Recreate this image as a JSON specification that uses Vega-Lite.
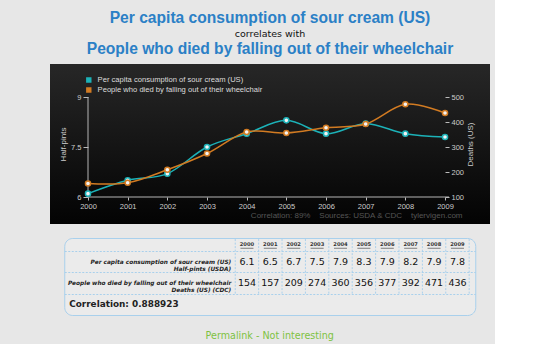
{
  "$schema": "https://vega.github.io/schema/vega-lite/v6.json",
  "background": "#e7e7e7",
  "padding": {"left": 50, "top": 11, "right": 5, "bottom": 2},
  "title": {
    "text": "Per capita consumption of sour cream (US)",
    "subtitle": "correlates with",
    "anchor": "middle",
    "font": "Liberation Sans",
    "fontSize": 15.6,
    "fontWeight": "bold",
    "color": "#2b80c6",
    "subtitleFont": "DejaVu Sans",
    "subtitleFontSize": 9.5,
    "subtitleColor": "#111111",
    "subtitlePadding": 2,
    "offset": 4
  },
  "datasets": {
    "series": [
      {"year": 2000, "cream": 6.1, "deaths": 154},
      {"year": 2001, "cream": 6.5, "deaths": 157},
      {"year": 2002, "cream": 6.7, "deaths": 209},
      {"year": 2003, "cream": 7.5, "deaths": 274},
      {"year": 2004, "cream": 7.9, "deaths": 360},
      {"year": 2005, "cream": 8.3, "deaths": 356},
      {"year": 2006, "cream": 7.9, "deaths": 377},
      {"year": 2007, "cream": 8.2, "deaths": 392},
      {"year": 2008, "cream": 7.9, "deaths": 471},
      {"year": 2009, "cream": 7.8, "deaths": 436}
    ]
  },
  "center": true,
  "spacing": 13,
  "vconcat": [
    {
      "width": 440,
      "height": 160,
      "title": {
        "text": "People who died by falling out of their wheelchair",
        "anchor": "middle",
        "font": "Liberation Sans",
        "fontSize": 15.6,
        "fontWeight": "bold",
        "color": "#2b80c6",
        "offset": 6
      },
      "view": {
        "stroke": null,
        "fill": {"gradient": "linear", "x1": 0, "y1": 0, "x2": 0, "y2": 1, "stops": [{"offset": 0, "color": "#272727"}, {"offset": 1, "color": "#030303"}]}
      },
      "data": {"name": "series"},
      "layer": [
        {
          "layer": [
            {
              "data": {"values": [{}]},
              "mark": {"type": "rule", "color": "#b5b5b5", "strokeWidth": 1},
              "encoding": {
                "x": {"datum": 2000, "type": "quantitative", "scale": {"domain": [1999.042, 2010.134], "nice": false, "zero": false},
                  "axis": {"orient": "bottom", "offset": -27, "zindex": 1, "values": [2000, 2001, 2002, 2003, 2004, 2005, 2006, 2007, 2008, 2009], "format": "d", "domain": false, "grid": false, "tickSize": 3, "tickColor": "#bbbbbb", "labelColor": "#cccccc", "labelFont": "Liberation Sans", "labelFontSize": 7.5, "labelPadding": 2, "title": "Correlation: 89%\u00a0\u00a0\u00a0\u00a0Sources: USDA & CDC\u00a0\u00a0\u00a0\u00a0tylervigen.com", "titleColor": "#555555", "titleFont": "Liberation Sans", "titleFontSize": 8, "titleFontWeight": "normal", "titleAnchor": "end", "titleX": 412, "titleAlign": "right", "titlePadding": 2}},
                "y": {"datum": 6, "type": "quantitative", "scale": {"domain": [5.19, 9.99], "nice": false, "zero": false},
                  "axis": {"orient": "left", "offset": -38, "zindex": 1, "values": [6, 7.5, 9], "labelExpr": "format(datum.value, '~g')", "domain": false, "grid": false, "tickSize": 5, "tickColor": "#bbbbbb", "labelColor": "#cccccc", "labelFont": "Liberation Sans", "labelFontSize": 7.5, "labelPadding": 2, "title": "Half-pints", "titleColor": "#cccccc", "titleFont": "Liberation Sans", "titleFontSize": 8, "titleFontWeight": "normal", "titlePadding": 3}},
                "y2": {"datum": 9}
              }
            },
            {
              "data": {"values": [{}]},
              "mark": {"type": "rule", "color": "#b5b5b5", "strokeWidth": 1},
              "encoding": {
                "x": {"datum": 2000, "type": "quantitative", "scale": {"domain": [1999.042, 2010.134], "nice": false, "zero": false},
                  "axis": {"orient": "bottom", "offset": -27, "zindex": 1, "values": [2000, 2001, 2002, 2003, 2004, 2005, 2006, 2007, 2008, 2009], "format": "d", "domain": false, "grid": false, "tickSize": 3, "tickColor": "#bbbbbb", "labelColor": "#cccccc", "labelFont": "Liberation Sans", "labelFontSize": 7.5, "labelPadding": 2, "title": "Correlation: 89%\u00a0\u00a0\u00a0\u00a0Sources: USDA & CDC\u00a0\u00a0\u00a0\u00a0tylervigen.com", "titleColor": "#555555", "titleFont": "Liberation Sans", "titleFontSize": 8, "titleFontWeight": "normal", "titleAnchor": "end", "titleX": 412, "titleAlign": "right", "titlePadding": 2}},
                "x2": {"datum": 2009.1},
                "y": {"datum": 6, "type": "quantitative", "scale": {"domain": [5.19, 9.99], "nice": false, "zero": false},
                  "axis": {"orient": "left", "offset": -38, "zindex": 1, "values": [6, 7.5, 9], "labelExpr": "format(datum.value, '~g')", "domain": false, "grid": false, "tickSize": 5, "tickColor": "#bbbbbb", "labelColor": "#cccccc", "labelFont": "Liberation Sans", "labelFontSize": 7.5, "labelPadding": 2, "title": "Half-pints", "titleColor": "#cccccc", "titleFont": "Liberation Sans", "titleFontSize": 8, "titleFontWeight": "normal", "titlePadding": 3}}
              }
            },
            {
              "mark": {"type": "line", "interpolate": "cardinal", "strokeWidth": 1.5},
              "encoding": {
                "x": {"field": "year", "type": "quantitative", "scale": {"domain": [1999.042, 2010.134], "nice": false, "zero": false},
                  "axis": {"orient": "bottom", "offset": -27, "zindex": 1, "values": [2000, 2001, 2002, 2003, 2004, 2005, 2006, 2007, 2008, 2009], "format": "d", "domain": false, "grid": false, "tickSize": 3, "tickColor": "#bbbbbb", "labelColor": "#cccccc", "labelFont": "Liberation Sans", "labelFontSize": 7.5, "labelPadding": 2, "title": "Correlation: 89%\u00a0\u00a0\u00a0\u00a0Sources: USDA & CDC\u00a0\u00a0\u00a0\u00a0tylervigen.com", "titleColor": "#555555", "titleFont": "Liberation Sans", "titleFontSize": 8, "titleFontWeight": "normal", "titleAnchor": "end", "titleX": 412, "titleAlign": "right", "titlePadding": 2}},
                "y": {"field": "cream", "type": "quantitative", "scale": {"domain": [5.19, 9.99], "nice": false, "zero": false},
                  "axis": {"orient": "left", "offset": -38, "zindex": 1, "values": [6, 7.5, 9], "labelExpr": "format(datum.value, '~g')", "domain": false, "grid": false, "tickSize": 5, "tickColor": "#bbbbbb", "labelColor": "#cccccc", "labelFont": "Liberation Sans", "labelFontSize": 7.5, "labelPadding": 2, "title": "Half-pints", "titleColor": "#cccccc", "titleFont": "Liberation Sans", "titleFontSize": 8, "titleFontWeight": "normal", "titlePadding": 3}},
                "color": {
                  "datum": "Per capita consumption of sour cream (US)", "type": "nominal",
                  "scale": {"domain": ["Per capita consumption of sour cream (US)", "People who died by falling out of their wheelchair"], "range": ["#1cb2b8", "#d27b22"]},
                  "legend": {
                    "orient": "none", "legendX": 35, "legendY": 12, "title": null, "zindex": 1,
                    "symbolType": "square", "symbolSize": 8, "symbolStrokeWidth": 2.6,
                    "labelColor": "#dddddd", "labelFont": "Liberation Sans", "labelFontSize": 7.6, "labelOffset": 5, "labelLimit": 0,
                    "clipHeight": 8, "padding": 0, "rowPadding": 2
                  }
                }
              }
            },
            {
              "mark": {"type": "point", "filled": false, "fill": "#f4f4f4", "size": 26, "strokeWidth": 1.5, "opacity": 1},
              "encoding": {
                "x": {"field": "year", "type": "quantitative", "scale": {"domain": [1999.042, 2010.134], "nice": false, "zero": false},
                  "axis": {"orient": "bottom", "offset": -27, "zindex": 1, "values": [2000, 2001, 2002, 2003, 2004, 2005, 2006, 2007, 2008, 2009], "format": "d", "domain": false, "grid": false, "tickSize": 3, "tickColor": "#bbbbbb", "labelColor": "#cccccc", "labelFont": "Liberation Sans", "labelFontSize": 7.5, "labelPadding": 2, "title": "Correlation: 89%\u00a0\u00a0\u00a0\u00a0Sources: USDA & CDC\u00a0\u00a0\u00a0\u00a0tylervigen.com", "titleColor": "#555555", "titleFont": "Liberation Sans", "titleFontSize": 8, "titleFontWeight": "normal", "titleAnchor": "end", "titleX": 412, "titleAlign": "right", "titlePadding": 2}},
                "y": {"field": "cream", "type": "quantitative", "scale": {"domain": [5.19, 9.99], "nice": false, "zero": false},
                  "axis": {"orient": "left", "offset": -38, "zindex": 1, "values": [6, 7.5, 9], "labelExpr": "format(datum.value, '~g')", "domain": false, "grid": false, "tickSize": 5, "tickColor": "#bbbbbb", "labelColor": "#cccccc", "labelFont": "Liberation Sans", "labelFontSize": 7.5, "labelPadding": 2, "title": "Half-pints", "titleColor": "#cccccc", "titleFont": "Liberation Sans", "titleFontSize": 8, "titleFontWeight": "normal", "titlePadding": 3}},
                "color": {"datum": "Per capita consumption of sour cream (US)", "type": "nominal"}
              }
            }
          ]
        },
        {
          "layer": [
            {
              "mark": {"type": "line", "interpolate": "cardinal", "strokeWidth": 1.5},
              "encoding": {
                "x": {"field": "year", "type": "quantitative", "scale": {"domain": [1999.042, 2010.134], "nice": false, "zero": false},
                  "axis": {"orient": "bottom", "offset": -27, "zindex": 1, "values": [2000, 2001, 2002, 2003, 2004, 2005, 2006, 2007, 2008, 2009], "format": "d", "domain": false, "grid": false, "tickSize": 3, "tickColor": "#bbbbbb", "labelColor": "#cccccc", "labelFont": "Liberation Sans", "labelFontSize": 7.5, "labelPadding": 2, "title": "Correlation: 89%\u00a0\u00a0\u00a0\u00a0Sources: USDA & CDC\u00a0\u00a0\u00a0\u00a0tylervigen.com", "titleColor": "#555555", "titleFont": "Liberation Sans", "titleFontSize": 8, "titleFontWeight": "normal", "titleAnchor": "end", "titleX": 412, "titleAlign": "right", "titlePadding": 2}},
                "y": {"field": "deaths", "type": "quantitative", "scale": {"domain": [-8, 632], "nice": false, "zero": false},
                  "axis": {"orient": "right", "offset": -45, "zindex": 1, "values": [100, 200, 300, 400, 500], "domain": false, "grid": false, "tickSize": 4, "tickColor": "#bbbbbb", "labelColor": "#cccccc", "labelFont": "Liberation Sans", "labelFontSize": 7.5, "labelPadding": 2, "title": "Deaths (US)", "titleAngle": 270, "titleBaseline": "top", "titleColor": "#cccccc", "titleFont": "Liberation Sans", "titleFontSize": 8, "titleFontWeight": "normal", "titlePadding": 3}},
                "color": {"datum": "People who died by falling out of their wheelchair", "type": "nominal"}
              }
            },
            {
              "mark": {"type": "point", "filled": false, "fill": "#f4f4f4", "size": 26, "strokeWidth": 1.5, "opacity": 1},
              "encoding": {
                "x": {"field": "year", "type": "quantitative", "scale": {"domain": [1999.042, 2010.134], "nice": false, "zero": false},
                  "axis": {"orient": "bottom", "offset": -27, "zindex": 1, "values": [2000, 2001, 2002, 2003, 2004, 2005, 2006, 2007, 2008, 2009], "format": "d", "domain": false, "grid": false, "tickSize": 3, "tickColor": "#bbbbbb", "labelColor": "#cccccc", "labelFont": "Liberation Sans", "labelFontSize": 7.5, "labelPadding": 2, "title": "Correlation: 89%\u00a0\u00a0\u00a0\u00a0Sources: USDA & CDC\u00a0\u00a0\u00a0\u00a0tylervigen.com", "titleColor": "#555555", "titleFont": "Liberation Sans", "titleFontSize": 8, "titleFontWeight": "normal", "titleAnchor": "end", "titleX": 412, "titleAlign": "right", "titlePadding": 2}},
                "y": {"field": "deaths", "type": "quantitative", "scale": {"domain": [-8, 632], "nice": false, "zero": false},
                  "axis": {"orient": "right", "offset": -45, "zindex": 1, "values": [100, 200, 300, 400, 500], "domain": false, "grid": false, "tickSize": 4, "tickColor": "#bbbbbb", "labelColor": "#cccccc", "labelFont": "Liberation Sans", "labelFontSize": 7.5, "labelPadding": 2, "title": "Deaths (US)", "titleAngle": 270, "titleBaseline": "top", "titleColor": "#cccccc", "titleFont": "Liberation Sans", "titleFontSize": 8, "titleFontWeight": "normal", "titlePadding": 3}},
                "color": {"datum": "People who died by falling out of their wheelchair", "type": "nominal"}
              }
            }
          ]
        }
      ],
      "resolve": {"scale": {"y": "independent"}}
    },
    {
      "width": 411,
      "height": 77,
      "view": {"fill": "#ebebeb", "stroke": "#a9d0ec", "strokeWidth": 1, "cornerRadius": 8},
      "title": {
        "text": "Permalink - Not interesting",
        "orient": "bottom",
        "anchor": "middle",
        "font": "DejaVu Sans",
        "fontSize": 9.6,
        "fontWeight": "normal",
        "color": "#7ec242",
        "offset": 16
      },
      "data": {"name": "series"},
      "layer": [
        {
          "data": {"values": [{}]},
          "mark": {"type": "rule", "color": "#a9d0ec", "strokeDash": [2, 1.5], "strokeWidth": 1},
          "encoding": {
            "x": {"datum": 1999.5, "type": "quantitative", "scale": {"domain": [1992.19, 2009.76], "nice": false, "zero": false}, "axis": null},
            "y": {"datum": 1, "type": "quantitative", "scale": {"domain": [0, 3.6], "nice": false, "zero": false},
              "axis": {"values": [1, 2, 3], "zindex": 1, "grid": true, "gridColor": "#a9d0ec", "gridDash": [2, 1.5], "gridWidth": 1, "labels": false, "ticks": false, "domain": false, "title": null}},
            "y2": {"datum": 3.6}
          }
        },
        {
          "mark": {"type": "rule", "color": "#a9d0ec", "strokeDash": [2, 1.5], "strokeWidth": 1, "xOffset": 11.7},
          "encoding": {
            "x": {"field": "year", "type": "quantitative", "scale": {"domain": [1992.19, 2009.76], "nice": false, "zero": false}, "axis": null},
            "y": {"datum": 1, "type": "quantitative", "scale": {"domain": [0, 3.6], "nice": false, "zero": false},
              "axis": {"values": [1, 2, 3], "zindex": 1, "grid": true, "gridColor": "#a9d0ec", "gridDash": [2, 1.5], "gridWidth": 1, "labels": false, "ticks": false, "domain": false, "title": null}},
            "y2": {"datum": 3.6}
          }
        },
        {
          "mark": {"type": "rule", "color": "#333333", "strokeWidth": 0.6, "xOffset": -6.5, "x2Offset": 6.5},
          "encoding": {
            "x": {"field": "year", "type": "quantitative", "scale": {"domain": [1992.19, 2009.76], "nice": false, "zero": false}, "axis": null},
            "x2": {"field": "year"},
            "y": {"datum": 3.12, "type": "quantitative", "scale": {"domain": [0, 3.6], "nice": false, "zero": false},
              "axis": {"values": [1, 2, 3], "zindex": 1, "grid": true, "gridColor": "#a9d0ec", "gridDash": [2, 1.5], "gridWidth": 1, "labels": false, "ticks": false, "domain": false, "title": null}}
          }
        },
        {
          "mark": {"type": "text", "font": "DejaVu Sans", "fontSize": 5.2, "fontWeight": "bold", "color": "#333333"},
          "encoding": {
            "x": {"field": "year", "type": "quantitative", "scale": {"domain": [1992.19, 2009.76], "nice": false, "zero": false}, "axis": null},
            "y": {"datum": 3.33, "type": "quantitative", "scale": {"domain": [0, 3.6], "nice": false, "zero": false},
              "axis": {"values": [1, 2, 3], "zindex": 1, "grid": true, "gridColor": "#a9d0ec", "gridDash": [2, 1.5], "gridWidth": 1, "labels": false, "ticks": false, "domain": false, "title": null}},
            "text": {"field": "year", "type": "quantitative", "format": "d"}
          }
        },
        {
          "mark": {"type": "text", "font": "DejaVu Sans", "fontSize": 9.5, "color": "#111111"},
          "encoding": {
            "x": {"field": "year", "type": "quantitative", "scale": {"domain": [1992.19, 2009.76], "nice": false, "zero": false}, "axis": null},
            "y": {"datum": 2.5, "type": "quantitative", "scale": {"domain": [0, 3.6], "nice": false, "zero": false},
              "axis": {"values": [1, 2, 3], "zindex": 1, "grid": true, "gridColor": "#a9d0ec", "gridDash": [2, 1.5], "gridWidth": 1, "labels": false, "ticks": false, "domain": false, "title": null}},
            "text": {"field": "cream", "type": "quantitative", "format": ".1f"}
          }
        },
        {
          "mark": {"type": "text", "font": "DejaVu Sans", "fontSize": 9.5, "color": "#111111"},
          "encoding": {
            "x": {"field": "year", "type": "quantitative", "scale": {"domain": [1992.19, 2009.76], "nice": false, "zero": false}, "axis": null},
            "y": {"datum": 1.5, "type": "quantitative", "scale": {"domain": [0, 3.6], "nice": false, "zero": false},
              "axis": {"values": [1, 2, 3], "zindex": 1, "grid": true, "gridColor": "#a9d0ec", "gridDash": [2, 1.5], "gridWidth": 1, "labels": false, "ticks": false, "domain": false, "title": null}},
            "text": {"field": "deaths", "type": "quantitative", "format": "d"}
          }
        },
        {
          "data": {"values": [{}]},
          "mark": {"type": "text", "align": "right", "baseline": "middle", "dx": -4, "font": "DejaVu Sans", "fontSize": 5.8, "fontStyle": "italic", "fontWeight": "bold", "lineHeight": 7.3, "color": "#222222", "text": ["Per capita consumption of sour cream (US)", "Half-pints (USDA)"]},
          "encoding": {
            "x": {"datum": 1999.5, "type": "quantitative", "scale": {"domain": [1992.19, 2009.76], "nice": false, "zero": false}, "axis": null},
            "y": {"datum": 2.5, "type": "quantitative", "scale": {"domain": [0, 3.6], "nice": false, "zero": false},
              "axis": {"values": [1, 2, 3], "zindex": 1, "grid": true, "gridColor": "#a9d0ec", "gridDash": [2, 1.5], "gridWidth": 1, "labels": false, "ticks": false, "domain": false, "title": null}}
          }
        },
        {
          "data": {"values": [{}]},
          "mark": {"type": "text", "align": "right", "baseline": "middle", "dx": -4, "font": "DejaVu Sans", "fontSize": 5.8, "fontStyle": "italic", "fontWeight": "bold", "lineHeight": 7.3, "color": "#222222", "text": ["People who died by falling out of their wheelchair", "Deaths (US) (CDC)"]},
          "encoding": {
            "x": {"datum": 1999.5, "type": "quantitative", "scale": {"domain": [1992.19, 2009.76], "nice": false, "zero": false}, "axis": null},
            "y": {"datum": 1.5, "type": "quantitative", "scale": {"domain": [0, 3.6], "nice": false, "zero": false},
              "axis": {"values": [1, 2, 3], "zindex": 1, "grid": true, "gridColor": "#a9d0ec", "gridDash": [2, 1.5], "gridWidth": 1, "labels": false, "ticks": false, "domain": false, "title": null}}
          }
        },
        {
          "data": {"values": [{}]},
          "mark": {"type": "text", "align": "left", "baseline": "middle", "dx": 5, "font": "DejaVu Sans", "fontSize": 8.9, "fontWeight": "bold", "color": "#222222", "text": "Correlation: 0.888923"},
          "encoding": {
            "x": {"datum": 1992.19, "type": "quantitative", "scale": {"domain": [1992.19, 2009.76], "nice": false, "zero": false}, "axis": null},
            "y": {"datum": 0.5, "type": "quantitative", "scale": {"domain": [0, 3.6], "nice": false, "zero": false},
              "axis": {"values": [1, 2, 3], "zindex": 1, "grid": true, "gridColor": "#a9d0ec", "gridDash": [2, 1.5], "gridWidth": 1, "labels": false, "ticks": false, "domain": false, "title": null}}
          }
        }
      ]
    }
  ],
  "config": {
    "view": {"stroke": null}
  }
}
